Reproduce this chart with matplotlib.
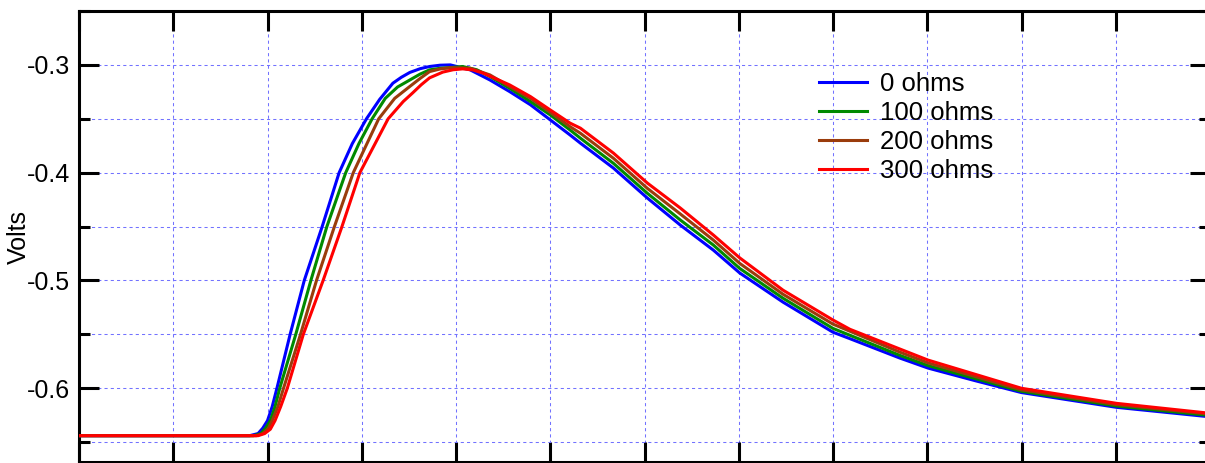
import matplotlib
matplotlib.use("Agg")
import matplotlib.pyplot as plt
from matplotlib.ticker import MultipleLocator, NullFormatter

plt.rcParams['font.family'] = ['Liberation Sans', 'DejaVu Sans']
plt.rcParams['axes.unicode_minus'] = False

# ---- data (time in divisions, volts) ----
labels = ["0 ohms", "100 ohms", "200 ohms", "300 ohms"]
colors = ["#0000ff", "#008a00", "#9a3c0c", "#ff0000"]

t_0 = [0, 1.81, 1.90, 1.95, 2.00, 2.05, 2.10, 2.24, 2.39, 2.58, 2.76, 2.90, 3.05, 3.19,
       3.33, 3.42, 3.51, 3.62, 3.72, 3.83, 3.94, 4.15, 4.36, 4.57, 4.79, 5.00, 5.21, 5.32, 5.67, 6.03,
       6.38, 6.73, 7.01, 7.47, 8.00, 8.18, 8.71, 9.01, 9.51, 10.0, 11.01, 12.0]
v_0 = [-0.644, -0.644, -0.642, -0.637, -0.630, -0.617, -0.600, -0.550, -0.500, -0.450,
       -0.400, -0.373, -0.350, -0.332, -0.317, -0.3115, -0.307, -0.3035, -0.3015, -0.3003,
       -0.300, -0.3046, -0.314,
       -0.3248, -0.337, -0.351, -0.365, -0.3726, -0.3957, -0.4235, -0.4486, -0.4718,
       -0.493, -0.5201, -0.548, -0.554, -0.572, -0.5813, -0.593, -0.604, -0.6177, -0.6265]

t_100 = [0, 1.85, 1.93, 1.98, 2.03, 2.08, 2.13, 2.30, 2.46, 2.63, 2.83, 2.97, 3.11, 3.25,
         3.38, 3.51, 3.62, 3.72, 3.83, 3.94, 4.07, 4.22, 4.36, 4.57, 4.79, 5.00, 5.21, 5.32, 5.67, 6.03, 6.38,
         6.73, 7.01, 7.47, 8.00, 8.71, 9.01, 10.0, 11.01, 12.0]
v_100 = [-0.644, -0.644, -0.642, -0.637, -0.630, -0.617, -0.600, -0.550, -0.500, -0.450,
         -0.400, -0.373, -0.350, -0.331, -0.3205, -0.314, -0.3085, -0.3046, -0.3032, -0.3025,
         -0.3015, -0.3045, -0.3108,
         -0.3217, -0.334, -0.3464, -0.3604, -0.368, -0.3913, -0.4191, -0.4439, -0.4671,
         -0.4888, -0.5165, -0.5445, -0.5695, -0.579, -0.6028, -0.6165, -0.6253]

t_200 = [0, 1.88, 1.95, 2.01, 2.05, 2.11, 2.17, 2.35, 2.52, 2.71, 2.91, 3.05, 3.18, 3.35,
         3.51, 3.62, 3.72, 3.83, 3.94, 4.15, 4.36, 4.57, 4.79, 5.00, 5.21, 5.32, 5.67, 6.03, 6.38,
         6.73, 7.01, 7.47, 8.00, 8.71, 9.01, 10.0, 11.01, 12.0]
v_200 = [-0.644, -0.644, -0.642, -0.637, -0.630, -0.617, -0.600, -0.550, -0.500, -0.450,
         -0.400, -0.374, -0.350, -0.331, -0.320, -0.3125, -0.3062, -0.3038, -0.3025, -0.3031, -0.3093,
         -0.3201, -0.331, -0.344, -0.3573, -0.3634, -0.3866, -0.4145, -0.4383, -0.4625,
         -0.4841, -0.5128, -0.5405, -0.5665, -0.5765, -0.6015, -0.6152, -0.6240]

t_300 = [0, 1.90, 1.97, 2.03, 2.08, 2.14, 2.21, 2.38, 2.59, 2.79, 2.98, 3.13, 3.28, 3.44,
         3.54, 3.63, 3.72, 3.86, 3.97, 4.07, 4.18, 4.29, 4.57, 4.79, 5.00, 5.21, 5.32, 5.67, 6.03, 6.38,
         6.73, 7.01, 7.47, 8.00, 8.18, 8.71, 9.01, 10.0, 11.01, 12.0]
v_300 = [-0.644, -0.644, -0.642, -0.638, -0.630, -0.617, -0.600, -0.550, -0.500, -0.450,
         -0.400, -0.375, -0.350, -0.334, -0.326, -0.3185, -0.312, -0.3067, -0.3045, -0.3037,
         -0.3047, -0.3077,
         -0.3186, -0.3294, -0.3418, -0.354, -0.3587, -0.3818, -0.4096, -0.4328, -0.4578,
         -0.479, -0.509, -0.5367, -0.5453, -0.5636, -0.5739, -0.600, -0.614, -0.6232]

y_ticks = [-0.6, -0.5, -0.4, -0.3]
y_tick_labels = ["-0.6", "-0.5", "-0.4", "-0.3"]

W, H = 1205, 463
fig = plt.figure(figsize=(W / 100, H / 100), dpi=100)
ax = fig.add_axes([79 / W, 1 / H, (1210 - 79) / W, (462 - 11) / H])

for t, v, c, lab in zip([t_0, t_100, t_200, t_300], [v_0, v_100, v_200, v_300], colors, labels):
    ax.plot(t, v, color=c, lw=2.2, label=lab, solid_joinstyle='round', zorder=3)

ax.set_xlim(0, 12)
ax.set_ylim(-0.6684, -0.25)
ax.xaxis.set_major_locator(MultipleLocator(1))
ax.set_yticks(y_ticks)
ax.set_yticklabels(y_tick_labels)
ax.yaxis.set_minor_locator(MultipleLocator(0.05))
ax.yaxis.set_minor_formatter(NullFormatter())

ax.grid(True, which='major', axis='both', color='#7272ff', lw=0.75, linestyle=(0, (3, 3)))
ax.grid(True, which='minor', axis='y', color='#7272ff', lw=0.75, linestyle=(0, (3, 3)))
ax.set_axisbelow(True)

for s in ax.spines.values():
    s.set_linewidth(2.2)
    s.set_color('black')

ax.tick_params(axis='both', which='major', direction='in', length=14.4, width=2.2,
               top=True, right=True, labelbottom=False, labelsize=18, pad=6.5)
ax.tick_params(axis='y', which='minor', direction='in', length=8, width=2.2, left=True, right=True)

ax.set_ylabel("Volts", fontsize=18)
ax.yaxis.set_label_coords(-0.0425, 0.5)

leg = ax.legend(loc='upper left', bbox_to_anchor=(819 / W, 1 - 72 / H), bbox_transform=fig.transFigure,
                frameon=False, fontsize=18.5, handlelength=1.87, handletextpad=0.5,
                labelspacing=0.19, borderpad=0, borderaxespad=0)

fig.savefig("out.png", dpi=100)
